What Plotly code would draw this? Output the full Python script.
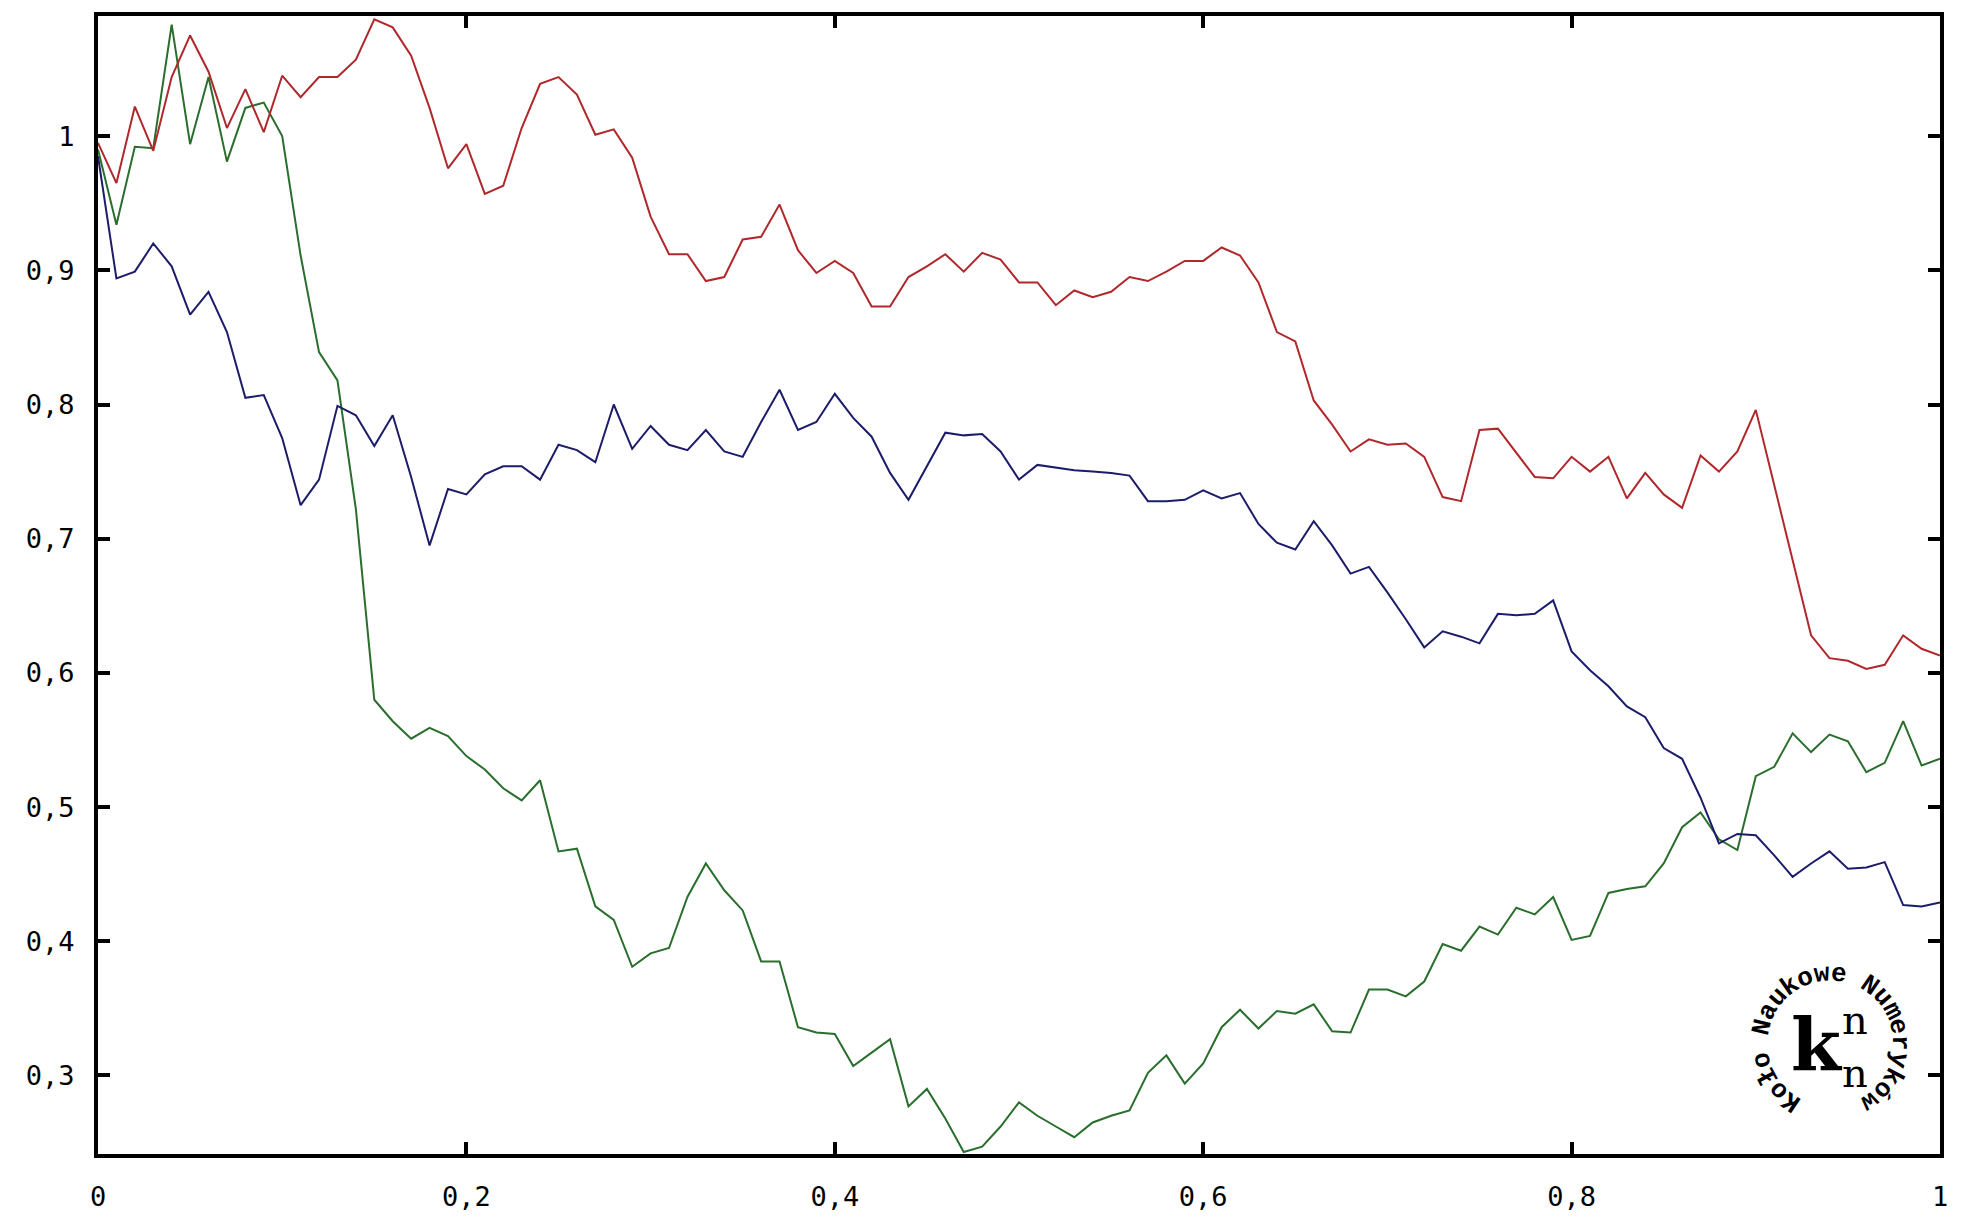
import math
import plotly.graph_objects as go

# ---- data -------------------------------------------------------------
x_vals = [round(i * 0.01, 2) for i in range(101)]

red_vals = [
    0.995, 0.965, 1.022, 0.989, 1.044, 1.075, 1.048, 1.006, 1.035, 1.003,
    1.045, 1.029, 1.044, 1.044, 1.057, 1.087, 1.081, 1.060, 1.021, 0.976,
    0.994, 0.957, 0.963, 1.006, 1.039, 1.044, 1.031, 1.001, 1.005, 0.984,
    0.940, 0.912, 0.912, 0.892, 0.895, 0.923, 0.925, 0.949, 0.915, 0.898,
    0.907, 0.898, 0.873, 0.873, 0.895, 0.903, 0.912, 0.899, 0.913, 0.908,
    0.891, 0.891, 0.874, 0.885, 0.880, 0.884, 0.895, 0.892, 0.899, 0.907,
    0.907, 0.917, 0.911, 0.891, 0.854, 0.847, 0.803, 0.785, 0.765, 0.774,
    0.770, 0.771, 0.761, 0.731, 0.728, 0.781, 0.782, 0.764, 0.746, 0.745,
    0.761, 0.750, 0.761, 0.730, 0.749, 0.733, 0.723, 0.762, 0.750, 0.765,
    0.796, 0.740, 0.683, 0.628, 0.611, 0.609, 0.603, 0.606, 0.628, 0.618,
    0.613,
]

blue_vals = [
    0.985, 0.894, 0.899, 0.920, 0.903, 0.867, 0.884, 0.854, 0.805, 0.807,
    0.775, 0.725, 0.744, 0.799, 0.792, 0.769, 0.792, 0.746, 0.695, 0.737,
    0.733, 0.748, 0.754, 0.754, 0.744, 0.770, 0.766, 0.757, 0.800, 0.767,
    0.784, 0.770, 0.766, 0.781, 0.765, 0.761, 0.787, 0.811, 0.781, 0.787,
    0.808, 0.790, 0.776, 0.749, 0.729, 0.754, 0.779, 0.777, 0.778, 0.765,
    0.744, 0.755, 0.753, 0.751, 0.750, 0.749, 0.747, 0.728, 0.728, 0.729,
    0.736, 0.730, 0.734, 0.711, 0.697, 0.692, 0.713, 0.695, 0.674, 0.679,
    0.660, 0.640, 0.619, 0.631, 0.627, 0.622, 0.644, 0.643, 0.644, 0.654,
    0.616, 0.602, 0.590, 0.575, 0.567, 0.544, 0.536, 0.507, 0.473, 0.480,
    0.479, 0.464, 0.448, 0.458, 0.467, 0.454, 0.455, 0.459, 0.427, 0.426,
    0.429,
]

green_vals = [
    0.990, 0.934, 0.992, 0.991, 1.083, 0.994, 1.044, 0.981, 1.021, 1.025,
    1.000, 0.911, 0.839, 0.818, 0.722, 0.580, 0.564, 0.551, 0.559, 0.553,
    0.538, 0.528, 0.514, 0.505, 0.520, 0.467, 0.469, 0.426, 0.416, 0.381,
    0.391, 0.395, 0.433, 0.458, 0.438, 0.423, 0.385, 0.385, 0.336, 0.332,
    0.331, 0.307, 0.317, 0.327, 0.277, 0.290, 0.268, 0.243, 0.247, 0.262,
    0.280, 0.270, 0.262, 0.254, 0.265, 0.270, 0.274, 0.302, 0.315, 0.294,
    0.309, 0.336, 0.349, 0.335, 0.348, 0.346, 0.353, 0.333, 0.332, 0.364,
    0.364, 0.359, 0.370, 0.398, 0.393, 0.411, 0.405, 0.425, 0.420, 0.433,
    0.401, 0.404, 0.436, 0.439, 0.441, 0.458, 0.485, 0.496, 0.476, 0.468,
    0.523, 0.530, 0.555, 0.541, 0.554, 0.549, 0.526, 0.533, 0.564, 0.531,
    0.536,
]

x_tick_vals = [0, 0.2, 0.4, 0.6, 0.8, 1]
x_tick_text = ["0", "0,2", "0,4", "0,6", "0,8", "1"]
y_tick_vals = [0.3, 0.4, 0.5, 0.6, 0.7, 0.8, 0.9, 1.0]
y_tick_text = ["0,3", "0,4", "0,5", "0,6", "0,7", "0,8", "0,9", "1"]

logo_ring_text = "Koło Naukowe Numeryków"

# ---- figure -----------------------------------------------------------
W, H = 1981, 1224
fig = go.Figure()

series = [
    ("green", green_vals, "#2a6e2e"),
    ("red", red_vals, "#b0282c"),
    ("blue", blue_vals, "#1c1c6a"),
]
for name, vals, col in series:
    fig.add_trace(go.Scatter(x=x_vals, y=vals, mode="lines", name=name,
                             line=dict(color=col, width=2), hoverinfo="skip"))

tick_font = dict(family="DejaVu Sans Mono", size=27, color="black")
axis_common = dict(showline=True, linecolor="black", linewidth=4, mirror="ticks",
                   ticks="inside", ticklen=12, tickwidth=4, tickcolor="black",
                   showgrid=False, zeroline=False, tickfont=tick_font,
                   tickmode="array")

fig.update_xaxes(range=[0, 1], tickvals=x_tick_vals, ticktext=x_tick_text,
                 ticklabelstandoff=16, **axis_common)
fig.update_yaxes(range=[0.2415, 1.0895], tickvals=y_tick_vals, ticktext=y_tick_text,
                 ticklabelstandoff=14, **axis_common)

# ---- logo (stamp) -----------------------------------------------------
annotations = []
cx, cy = 0.9405, 0.0975  # paper coords of logo centre
radius = 70
start_deg, end_deg = 236.0, -56.0
n = len(logo_ring_text)
for i, ch in enumerate(logo_ring_text):
    if ch == " ":
        continue
    th = start_deg + (end_deg - start_deg) * i / (n - 1)
    r = math.radians(th)
    annotations.append(dict(
        x=cx, y=cy, xref="paper", yref="paper", text=ch, showarrow=False,
        xshift=radius * math.cos(r), yshift=radius * math.sin(r),
        textangle=90 - th, xanchor="center", yanchor="middle",
        font=dict(family="Liberation Mono", size=26, color="black", weight="bold")))

annotations.append(dict(x=cx, y=cy, xref="paper", yref="paper", text="<b>k</b>",
                        showarrow=False, xshift=-13, yshift=-2,
                        xanchor="center", yanchor="middle",
                        font=dict(family="DejaVu Serif", size=72, color="black")))
for ys in (23, -30):
    annotations.append(dict(x=cx, y=cy, xref="paper", yref="paper", text="n",
                            showarrow=False, xshift=25, yshift=ys,
                            xanchor="center", yanchor="middle",
                            font=dict(family="DejaVu Serif", size=40, color="black")))

fig.update_layout(
    width=W, height=H,
    margin=dict(l=98, r=41, t=13, b=64),
    paper_bgcolor="white", plot_bgcolor="white",
    showlegend=False,
    annotations=annotations,
)

fig.write_html("out.html", config={"displayModeBar": False},
               post_script="document.body.style.margin='0';document.body.style.overflow='hidden';")
